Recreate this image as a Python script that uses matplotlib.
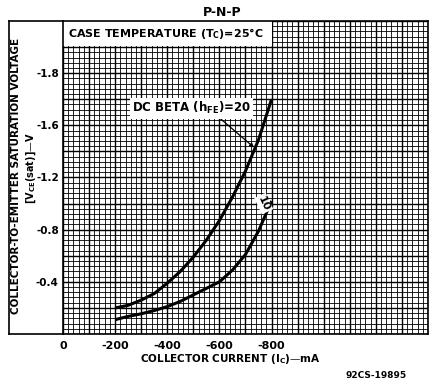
import numpy as np
import matplotlib
matplotlib.use("Agg")
import matplotlib.pyplot as plt
from matplotlib.lines import Line2D
from matplotlib.patches import Rectangle

# collector current (mA) and saturation voltage (V)
ic_beta20 = [-200, -250, -300, -350, -400, -450, -500, -550, -600, -650, -700, -750, -800]
vce_beta20 = [-0.20, -0.22, -0.26, -0.31, -0.39, -0.48, -0.59, -0.72, -0.87, -1.05, -1.25, -1.49, -1.80]

ic_beta10 = [-200, -250, -300, -350, -400, -450, -500, -550, -600, -650, -700, -750, -800]
vce_beta10 = [-0.11, -0.135, -0.155, -0.18, -0.21, -0.25, -0.30, -0.35, -0.40, -0.49, -0.61, -0.79, -1.02]

x_ticks = [0, -200, -400, -600, -800]
x_ticklabels = ["0", "-200", "-400", "-600", "-800"]
y_ticks = [-0.4, -0.8, -1.2, -1.6, -2.0]
y_ticklabels = ["-0.4", "-0.8", "-1.2", "-1.6", "-1.8"]  # as printed on the original

W, H = 431, 383
FONT = "DejaVu Sans"

def fx(px):
    return px / W

def fy(py):
    return 1 - py / H

fig = plt.figure(figsize=(W / 100, H / 100), dpi=100)
fig.patch.set_facecolor("white")

ax = fig.add_axes([fx(63), fy(334), fx(428) - fx(63), fy(21) - fy(334)])
ax.set_xlim(0, -1400)
ax.set_ylim(0, -2.4)

# graph paper grid
for x in np.arange(0, -1401, -20):
    major = (round(x) % 100 == 0)
    ax.axvline(x, color="black", lw=1.0 if major else 0.6, zorder=1)
for y in np.arange(0, -2.401, -0.04):
    major = abs(round(y / 0.2) * 0.2 - y) < 1e-6
    ax.axhline(y, color="black", lw=1.0 if major else 0.6, zorder=1)

# white box for the temperature note
ax.add_patch(Rectangle((0, -2.21), -800, -0.2, facecolor="white", edgecolor="none", zorder=2))
ax.text(-18, -2.305, r"CASE TEMPERATURE (T$_\mathregular{C}$)=25°C", fontsize=8, fontweight="bold",
        family=FONT, va="center", ha="left", zorder=3)

ax.plot(ic_beta20, vce_beta20, color="black", lw=2.2, zorder=4, solid_capstyle="butt")
ax.plot(ic_beta10, vce_beta10, color="black", lw=2.2, zorder=4, solid_capstyle="butt")

ax.annotate(r"DC BETA (h$_\mathregular{FE}$)=20", xy=(-733, -1.43), xytext=(-265, -1.73),
            fontsize=8.5, fontweight="bold", family=FONT, ha="left", va="center", zorder=5,
            bbox=dict(facecolor="white", edgecolor="none", pad=1.5),
            arrowprops=dict(arrowstyle="-|>", color="black", lw=0.9, mutation_scale=6,
                            shrinkA=0, shrinkB=0, relpos=(0.72, 0.0)))
ax.text(-770, -1.0, "10", fontsize=8, fontweight="bold", family=FONT, rotation=-65,
        ha="center", va="center", zorder=5,
        bbox=dict(facecolor="white", edgecolor="none", pad=1.0))

ax.set_xticks(x_ticks)
ax.set_xticklabels(x_ticklabels)
ax.set_yticks(y_ticks)
ax.set_yticklabels(y_ticklabels)
ax.tick_params(length=0, labelsize=8, pad=5)
for lab in ax.get_xticklabels() + ax.get_yticklabels():
    lab.set_fontweight("bold")
    lab.set_family(FONT)
ax.tick_params(axis="y", pad=3, labelsize=7.5)

for s in ax.spines.values():
    s.set_linewidth(1.2)
    s.set_zorder(6)

# outer frame around the label area
frame_kw = dict(color="black", lw=1.2, transform=fig.transFigure)
fig.add_artist(Line2D([fx(9), fx(9)], [fy(21), fy(334)], **frame_kw))
fig.add_artist(Line2D([fx(9), fx(63)], [fy(21), fy(21)], **frame_kw))
fig.add_artist(Line2D([fx(9), fx(63)], [fy(334), fy(334)], **frame_kw))

fig.text(fx(222), fy(12), "P-N-P", fontsize=9, fontweight="bold", family=FONT, ha="center", va="center")
fig.text(fx(16), fy(176), "COLLECTOR-TO-EMITTER SATURATION VOLTAGE", fontsize=7.5, fontweight="bold",
         family=FONT, rotation=90, ha="center", va="center")
fig.text(fx(31), fy(168), r"[V$_\mathregular{CE}$(sat)]—V", fontsize=7, fontweight="bold",
         family=FONT, rotation=90, ha="center", va="center")
fig.text(fx(230), fy(359), r"COLLECTOR CURRENT (I$_\mathregular{C}$)—mA", fontsize=7.5, fontweight="bold",
         family=FONT, ha="center", va="center")
fig.text(fx(376), fy(376), "92CS-19895", fontsize=6.5, fontweight="bold", family=FONT,
         ha="center", va="center")

fig.savefig("out.png", dpi=100, facecolor="white")
